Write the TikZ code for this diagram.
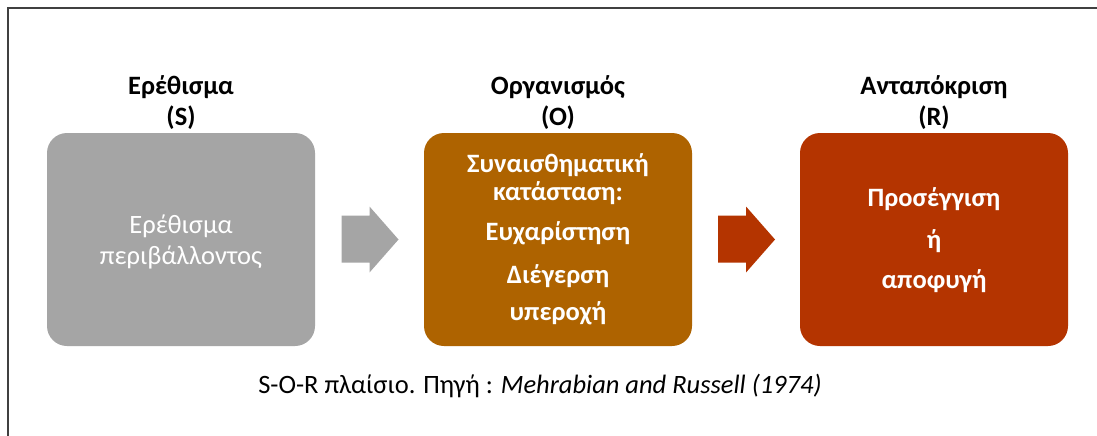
\documentclass[tikz,border=0pt]{standalone}
\usepackage{fontspec}
\setmainfont{Carlito}
\usetikzlibrary{calc}
\definecolor{sgray}{HTML}{A5A5A5}
\definecolor{obrown}{HTML}{AE6300}
\definecolor{rrust}{HTML}{B43400}
\definecolor{framec}{HTML}{404040}
\newcommand{\txtsize}{\fontsize{26.5}{31}\selectfont}
\begin{document}
\begin{tikzpicture}[x=1pt,y=-1pt,
  stage/.style={rounded corners=20pt, minimum width=268pt, minimum height=213pt, inner sep=0pt},
  headtxt/.style={anchor=base, inner sep=0pt, text=black, font=\txtsize\bfseries},
  intxt/.style={anchor=base, inner sep=0pt, text=white, font=\txtsize\bfseries},
  intxtlight/.style={anchor=base, inner sep=0pt, text=white, font=\txtsize},
  captxt/.style={anchor=base, inner sep=0pt, text=black, font=\txtsize},
  blockarrow/.style={fill=#1, draw=none}]
\useasboundingbox (0,0) rectangle (1097,436);
\fill[white] (0,0) rectangle (1097,436);
% frame lines on the left and top
\draw[framec, line width=1.3pt] (8,436) -- (8,8) -- (1097,8);

% the three stages
\node[stage, fill=sgray]  (S) at (181,239.5) {};
\node[stage, fill=obrown] (O) at (558,239.5) {};
\node[stage, fill=rrust]  (R) at (934,239.5) {};

% headings
\node[headtxt] (hS1) at (181,94)  {Ερέθισμα};
\node[headtxt] (hS2) at (181,125) {(S)};
\node[headtxt] (hO1) at (558,94)  {Οργανισμός};
\node[headtxt] (hO2) at (558,125) {(O)};
\node[headtxt] (hR1) at (934,94)  {Ανταπόκριση};
\node[headtxt] (hR2) at (934,125) {(R)};

% stimulus text
\node[intxtlight] (tS1) at (181,233) {Ερέθισμα};
\node[intxtlight] (tS2) at (181,264) {περιβάλλοντος};

% organism text
\node[intxt] (tO1) at (558,172) {Συναισθηματική};
\node[intxt] (tO2) at (558,200) {κατάσταση:};
\node[intxt] (tO3) at (558,240) {Ευχαρίστηση};
\node[intxt] (tO4) at (558,283) {Διέγερση};
\node[intxt] (tO5) at (558,320) {υπεροχή};

% response text
\node[intxt] (tR1) at (934,206) {Προσέγγιση};
\node[intxt] (tR2) at (934,248) {ή};
\node[intxt] (tR3) at (934,288) {αποφυγή};

% block arrows between stages
\coordinate (a1) at ($(S.east)!0.5!(O.west)$);
\coordinate (a2) at ($(O.east)!0.5!(R.west)$);
\fill[blockarrow=sgray, shift={(a1)}] (-28,-24) -- (0,-24) -- (0,-33) -- (29,0) -- (0,33) -- (0,23) -- (-28,23) -- cycle;
\fill[blockarrow=rrust, shift={(a2)}] (-28,-24) -- (0,-24) -- (0,-33) -- (29,0) -- (0,33) -- (0,23) -- (-28,23) -- cycle;

% caption
\node[captxt] (cap) at (540,393) {S-O-R πλαίσιο. Πηγή : \textit{Mehrabian and Russell (1974)}};
\end{tikzpicture}
\end{document}
